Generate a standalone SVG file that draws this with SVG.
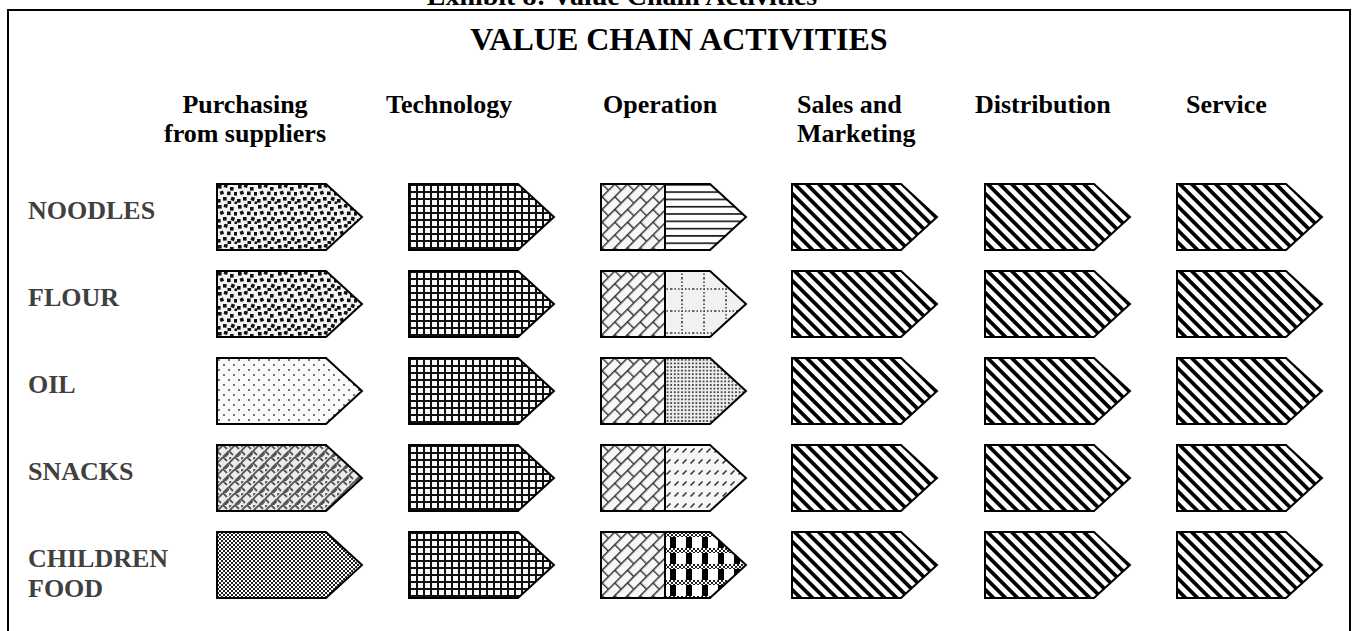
<svg xmlns="http://www.w3.org/2000/svg" width="1354" height="631" viewBox="0 0 1354 631">
<style>
.t{font-family:"Liberation Serif","Times New Roman",serif;font-weight:bold;}
.title{font-size:28px;fill:#000;}
.main{font-size:32px;fill:#000;}
.hdr{font-size:26px;fill:#000;}
.row{font-size:26px;fill:#404040;}
.arrow{stroke:#000;stroke-width:2;stroke-linejoin:miter;}
.outline{fill:none;stroke:#000;stroke-width:2;}
</style>
<defs>
  <pattern id="confetti" width="20" height="20" patternUnits="userSpaceOnUse">
    <rect width="20" height="20" fill="#f3f3f3"/>
    <g fill="#111">
      <rect x="1" y="1" width="3.6" height="3.6"/>
      <rect x="7" y="0" width="3.6" height="3.6" transform="rotate(15 8.7 1.7)"/>
      <rect x="13" y="3" width="3.6" height="3.6"/>
      <rect x="17" y="8" width="3.6" height="3.6"/>
      <rect x="3" y="7" width="3.6" height="3.6" transform="rotate(-20 4.7 8.7)"/>
      <rect x="10" y="7.5" width="3.6" height="3.6"/>
      <rect x="6" y="13" width="3.6" height="3.6"/>
      <rect x="14" y="13" width="3.6" height="3.6" transform="rotate(20 15.7 14.7)"/>
      <rect x="0" y="15" width="3.6" height="3.6"/>
      <rect x="10.5" y="17" width="3.6" height="3.6"/>
      <rect x="17.5" y="17.5" width="2.5" height="2.5"/>
    </g>
  </pattern>
  <pattern id="sparsedots" width="10" height="10" patternUnits="userSpaceOnUse">
    <rect width="10" height="10" fill="#fbfbfb"/>
    <circle cx="2" cy="2" r="0.9" fill="#333"/>
    <circle cx="7" cy="7" r="0.9" fill="#333"/>
  </pattern>
  <pattern id="weave" width="12" height="12" patternUnits="userSpaceOnUse">
    <rect width="12" height="12" fill="#ececec"/>
    <path d="M0,6 L6,0 M6,12 L12,6 M0,6 L4,10 M6,0 L10,4 M8,12 L12,8 M0,2 L2,0" stroke="#555" stroke-width="1.8" fill="none"/>
  </pattern>
  <pattern id="checker" width="4" height="4" patternUnits="userSpaceOnUse">
    <rect width="4" height="4" fill="#fff"/>
    <rect width="2" height="2" fill="#222"/>
    <rect x="2" y="2" width="2" height="2" fill="#222"/>
  </pattern>
  <pattern id="grid" width="7" height="7" patternUnits="userSpaceOnUse">
    <rect width="7" height="7" fill="#fafafa"/>
    <rect x="0" y="0" width="2" height="7" fill="#111"/>
    <rect x="0" y="0" width="7" height="2" fill="#111"/>
  </pattern>
  <pattern id="brick" width="18" height="18" patternUnits="userSpaceOnUse" patternTransform="rotate(-45)">
    <rect width="18" height="18" fill="#f7f7f7"/>
    <path d="M0,0.7 H18 M0,9.7 H18 M0.7,0 V9.7 M9.7,9.7 V18" stroke="#333" stroke-width="1.4" fill="none"/>
  </pattern>
  <pattern id="hlines" width="7" height="7.3" patternUnits="userSpaceOnUse">
    <rect width="7" height="7.3" fill="#fff"/>
    <rect y="0" width="7" height="1.6" fill="#111"/>
  </pattern>
  <pattern id="dotgrid" width="22" height="22" patternUnits="userSpaceOnUse" x="4" y="7">
    <rect width="22" height="22" fill="#f1f1f1"/>
    <path d="M11,0 V22 M0,11 H22" stroke="#333" stroke-width="1.5" stroke-dasharray="1.5 2" fill="none"/>
  </pattern>
  <pattern id="densedots" width="3.6" height="3.6" patternUnits="userSpaceOnUse">
    <rect width="3.6" height="3.6" fill="#eee"/>
    <circle cx="1.8" cy="1.8" r="1" fill="#222"/>
  </pattern>
  <pattern id="dashdiag" width="8" height="11" patternUnits="userSpaceOnUse">
    <rect width="8" height="11" fill="#f6f6f6"/>
    <path d="M1.5,7.5 L5.5,3.5" stroke="#333" stroke-width="1.6"/>
  </pattern>
  <pattern id="plaid" width="16" height="16" patternUnits="userSpaceOnUse">
    <rect width="16" height="16" fill="#fff"/>
    <rect x="5" y="0" width="6" height="16" fill="#000"/>
    <rect x="0" y="0" width="16" height="5" fill="url(#checker)"/>
  </pattern>
  <pattern id="diag" width="8.5" height="8.5" patternUnits="userSpaceOnUse" patternTransform="rotate(-45)">
    <rect width="8.5" height="8.5" fill="#fff"/>
    <rect x="0" y="0" width="3.8" height="8.5" fill="#000"/>
  </pattern>
  <path id="arr" d="M0,0 H109 L145,33 L109,66 H0 Z"/>
  <path id="arrR" d="M64,0 H108 L145,33 L108,66 H64 Z"/>
</defs>

<rect x="8" y="10" width="1342" height="640" fill="#fff" stroke="#000" stroke-width="2"/>
<text class="t title" x="622" y="5" text-anchor="middle">Exhibit 8: Value Chain Activities</text>
<text class="t main" x="679" y="50" text-anchor="middle">VALUE CHAIN ACTIVITIES</text>

<g id="headers">
  <text class="t hdr" x="245" y="113" text-anchor="middle">Purchasing</text>
  <text class="t hdr" x="245" y="142" text-anchor="middle">from suppliers</text>
  <text class="t hdr" x="386" y="113">Technology</text>
  <text class="t hdr" x="603" y="113">Operation</text>
  <text class="t hdr" x="797" y="113">Sales and</text>
  <text class="t hdr" x="797" y="142">Marketing</text>
  <text class="t hdr" x="975" y="113">Distribution</text>
  <text class="t hdr" x="1186" y="113">Service</text>
</g>

<g id="row-labels">
  <text class="t row" x="28" y="219">NOODLES</text>
  <text class="t row" x="28" y="306">FLOUR</text>
  <text class="t row" x="28" y="393">OIL</text>
  <text class="t row" x="28" y="480">SNACKS</text>
  <text class="t row" x="28" y="567">CHILDREN</text>
  <text class="t row" x="28" y="597">FOOD</text>
</g>

<!-- Row 1: NOODLES -->
<g id="noodles-purchasing" transform="translate(217,184)"><use href="#arr" class="arrow" fill="url(#confetti)"/></g>
<g id="noodles-technology" transform="translate(409,184)"><use href="#arr" class="arrow" fill="url(#grid)"/></g>
<g id="noodles-operation" transform="translate(601,184)"><rect width="64" height="66" fill="url(#brick)"/><use href="#arrR" fill="url(#hlines)"/><use href="#arr" class="outline"/><line x1="64" y1="0" x2="64" y2="66" class="outline"/></g>
<g id="noodles-sales" transform="translate(792,184)"><use href="#arr" class="arrow" fill="url(#diag)"/></g>
<g id="noodles-distribution" transform="translate(985,184)"><use href="#arr" class="arrow" fill="url(#diag)"/></g>
<g id="noodles-service" transform="translate(1177,184)"><use href="#arr" class="arrow" fill="url(#diag)"/></g>

<!-- Row 2: FLOUR -->
<g id="flour-purchasing" transform="translate(217,271)"><use href="#arr" class="arrow" fill="url(#confetti)"/></g>
<g id="flour-technology" transform="translate(409,271)"><use href="#arr" class="arrow" fill="url(#grid)"/></g>
<g id="flour-operation" transform="translate(601,271)"><rect width="64" height="66" fill="url(#brick)"/><use href="#arrR" fill="url(#dotgrid)"/><use href="#arr" class="outline"/><line x1="64" y1="0" x2="64" y2="66" class="outline"/></g>
<g id="flour-sales" transform="translate(792,271)"><use href="#arr" class="arrow" fill="url(#diag)"/></g>
<g id="flour-distribution" transform="translate(985,271)"><use href="#arr" class="arrow" fill="url(#diag)"/></g>
<g id="flour-service" transform="translate(1177,271)"><use href="#arr" class="arrow" fill="url(#diag)"/></g>

<!-- Row 3: OIL -->
<g id="oil-purchasing" transform="translate(217,358)"><use href="#arr" class="arrow" fill="url(#sparsedots)"/></g>
<g id="oil-technology" transform="translate(409,358)"><use href="#arr" class="arrow" fill="url(#grid)"/></g>
<g id="oil-operation" transform="translate(601,358)"><rect width="64" height="66" fill="url(#brick)"/><use href="#arrR" fill="url(#densedots)"/><use href="#arr" class="outline"/><line x1="64" y1="0" x2="64" y2="66" class="outline"/></g>
<g id="oil-sales" transform="translate(792,358)"><use href="#arr" class="arrow" fill="url(#diag)"/></g>
<g id="oil-distribution" transform="translate(985,358)"><use href="#arr" class="arrow" fill="url(#diag)"/></g>
<g id="oil-service" transform="translate(1177,358)"><use href="#arr" class="arrow" fill="url(#diag)"/></g>

<!-- Row 4: SNACKS -->
<g id="snacks-purchasing" transform="translate(217,445)"><use href="#arr" class="arrow" fill="url(#weave)"/></g>
<g id="snacks-technology" transform="translate(409,445)"><use href="#arr" class="arrow" fill="url(#grid)"/></g>
<g id="snacks-operation" transform="translate(601,445)"><rect width="64" height="66" fill="url(#brick)"/><use href="#arrR" fill="url(#dashdiag)"/><use href="#arr" class="outline"/><line x1="64" y1="0" x2="64" y2="66" class="outline"/></g>
<g id="snacks-sales" transform="translate(792,445)"><use href="#arr" class="arrow" fill="url(#diag)"/></g>
<g id="snacks-distribution" transform="translate(985,445)"><use href="#arr" class="arrow" fill="url(#diag)"/></g>
<g id="snacks-service" transform="translate(1177,445)"><use href="#arr" class="arrow" fill="url(#diag)"/></g>

<!-- Row 5: CHILDREN FOOD -->
<g id="children-purchasing" transform="translate(217,532)"><use href="#arr" class="arrow" fill="url(#checker)"/></g>
<g id="children-technology" transform="translate(409,532)"><use href="#arr" class="arrow" fill="url(#grid)"/></g>
<g id="children-operation" transform="translate(601,532)"><rect width="64" height="66" fill="url(#brick)"/><use href="#arrR" fill="url(#plaid)"/><use href="#arr" class="outline"/><line x1="64" y1="0" x2="64" y2="66" class="outline"/></g>
<g id="children-sales" transform="translate(792,532)"><use href="#arr" class="arrow" fill="url(#diag)"/></g>
<g id="children-distribution" transform="translate(985,532)"><use href="#arr" class="arrow" fill="url(#diag)"/></g>
<g id="children-service" transform="translate(1177,532)"><use href="#arr" class="arrow" fill="url(#diag)"/></g>
</svg>
